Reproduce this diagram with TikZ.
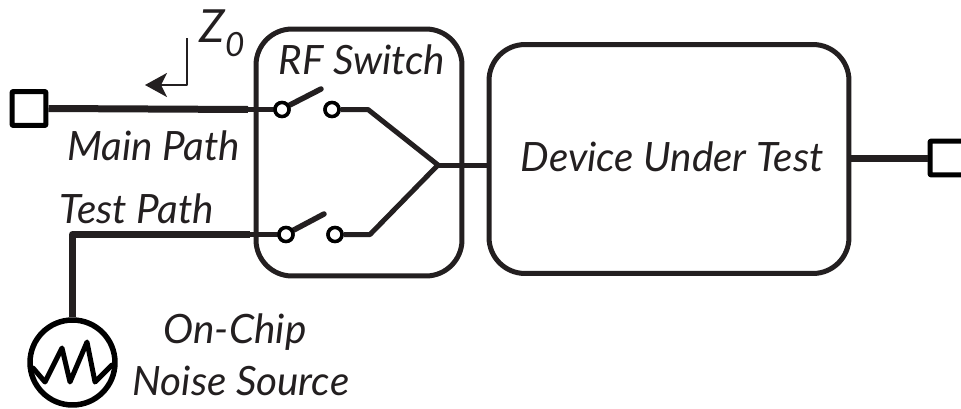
\documentclass[tikz,border=0pt]{standalone}
\usepackage{fontspec}
\setmainfont{Lato}
\usetikzlibrary{arrows.meta, shapes.geometric}
\definecolor{ink}{HTML}{231F20}

\begin{document}
\begin{tikzpicture}[x=0.02cm, y=-0.02cm, color=ink, line join=round,
label/.style={font=\fontsize{23pt}{27pt}\selectfont\itshape, inner sep=0pt, text=ink, align=center},
pad/.style={draw=black, rectangle, fill=white, line width=0.1cm, minimum size=0.68cm, inner sep=0pt, rounded corners=0.02cm},
contact/.style={draw=black, circle, fill=white, line width=0.07cm, minimum size=0.28cm, inner sep=0pt},
wire/.style={line width=0.1cm},
feed/.style={line width=0.14cm},
block/.style={draw, rectangle, line width=0.1cm, rounded corners=0.72cm, inner sep=0pt}]
\useasboundingbox (0,0) rectangle (961,409);

\node [block, minimum width=4.12cm, minimum height=4.94cm] (switchbox) at (359,152.5){};
\node [block, minimum width=7.2cm, minimum height=4.58cm] (dut) at (669,159){};
\node [pad] (mainpad) at (29,108.5){};
\node [pad] (outpad) at (947,158){};
\node [draw=black, circle, line width=0.11cm, minimum size=1.7cm, inner sep=0pt] (noise) at (72.5,362.5){};

\coordinate (mainjoin) at (248,109.5);
\coordinate (testjoin) at (250,234.5);
\coordinate (testcorner) at (72.5,234.5);
\coordinate (sum) at (438,165);
\coordinate (upperbend) at (368,109.5);
\coordinate (lowerbend) at (370,234.5);
\coordinate (uppertip) at (321,89);
\coordinate (lowertip) at (324,214);
\coordinate (zbend) at (187,85);
\coordinate (ztop) at (187,38);
\coordinate (zend) at (145,85);

\draw[feed] (mainpad.east) -- (mainjoin);
\draw[feed] (noise.north) -- (testcorner) -- (testjoin);
\draw[feed] (dut.east |- outpad) -- (outpad.west);
\node [contact] (mainA) at (282,109.5){};
\node [contact] (mainB) at (332,109.5){};
\node [contact] (testA) at (286,234.5){};
\node [contact] (testB) at (335,234.5){};
\draw[wire, line cap=round] (mainjoin) -- (mainA);
\draw[wire, line cap=round] (testjoin) -- (testA);
\draw[feed, line width=0.11cm, line cap=round] (mainA.30) -- (uppertip);
\draw[feed, line width=0.11cm, line cap=round] (testA.30) -- (lowertip);
\draw[wire] (mainB) -- (upperbend) -- (sum) -- (lowerbend) -- (testB);
\draw[wire] (sum) -- (sum -| dut.west);
\node [contact] at (mainA){};
\node [contact] at (mainB){};
\node [contact] at (testA){};
\node [contact] at (testB){};

\draw[line width=0.055cm, -{Stealth[length=0.44cm, width=0.48cm, inset=0.12cm]}] (ztop) -- (zbend) -- (zend);
\draw[black, line width=0.1cm, line cap=round] (33,368) -- (45,382) -- (62,348) -- (70,382) -- (87,342) -- (95,382) -- (112,365);

\node [label] (ztext) at (222,33){\fontsize{26pt}{30pt}\selectfont Z\raisebox{-0.3em}{\fontsize{19pt}{22pt}\selectfont 0}};
\node [label] (switchtext) at (362,60){RF Switch};
\node [label] (maintext) at (154,146){Main Path};
\node [label] (testtext) at (137,209){Test Path};
\node [label] (chiptext) at (235,332){On-Chip};
\node [label] (sourcetext) at (241,381){Noise Source};
\node [label] (duttext) at (672,157){Device Under Test};
\end{tikzpicture}
\end{document}
